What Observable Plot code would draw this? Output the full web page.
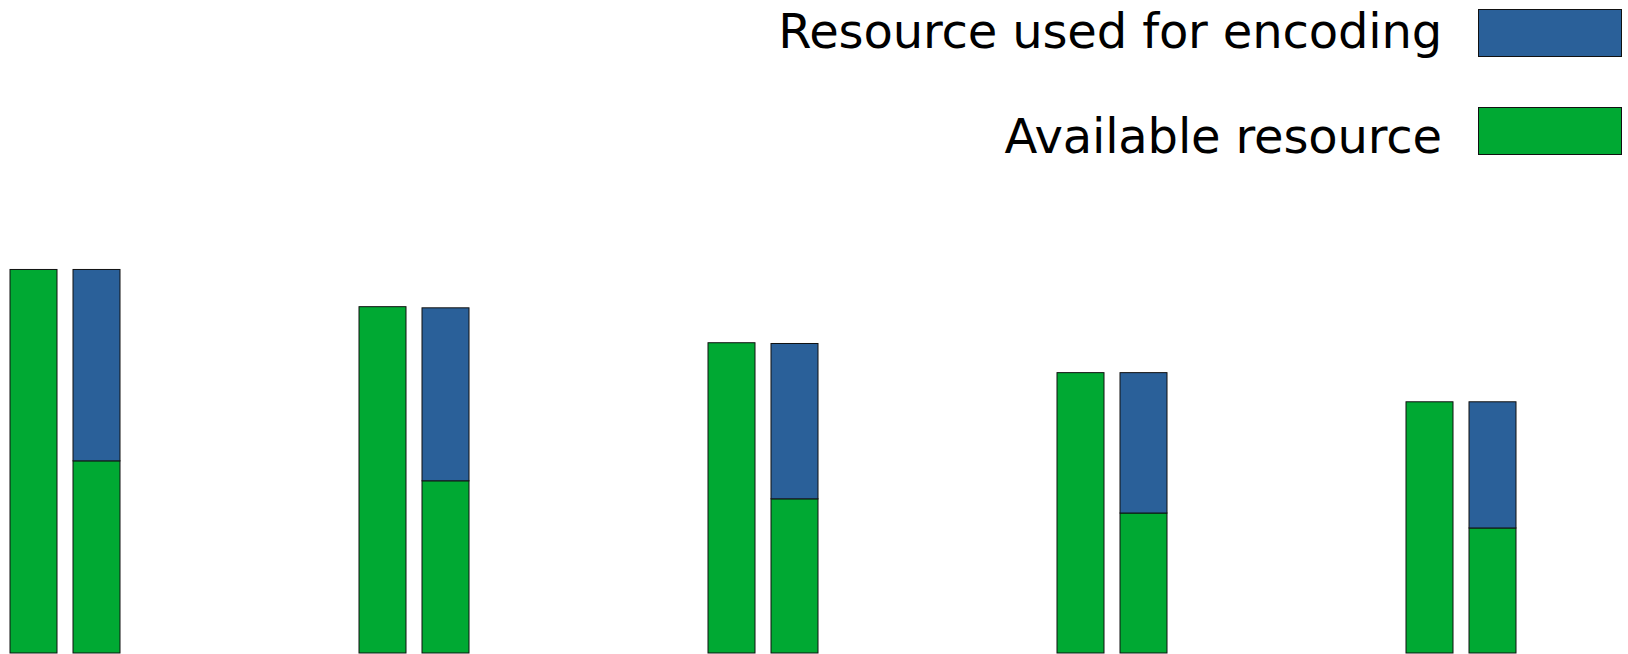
<!DOCTYPE html>
<html>
<head>
<meta charset="utf-8">
<script src="https://cdn.jsdelivr.net/npm/d3@7"></script>
<script src="https://cdn.jsdelivr.net/npm/@observablehq/plot@0.6"></script>
<style>
  html, body { margin: 0; padding: 0; background: #fff; }
  #wrap { position: relative; width: 1628px; height: 654px; overflow: hidden; }
  #legend { position: absolute; left: 0; top: 0; width: 1628px; height: 170px; pointer-events: none; }
  svg { display: block; }
</style>
</head>
<body>
<div id="wrap"></div>
<script>
// ---- data (arbitrary resource units, first group = 100) ----
const groups = ["G1", "G2", "G3", "G4", "G5"];
const sides = ["total", "split"];
const availableTotal = [100, 90.3, 80.9, 73.1, 65.5];   // left bar (all available)
const splitAvailable = [50.1, 44.9, 40.2, 36.5, 32.6];  // right bar, bottom (available)
const splitUsed = [49.9, 45.1, 40.5, 36.6, 32.9];       // right bar, top (used for encoding)
const seriesNames = ["Available resource", "Resource used for encoding"];
const legendOrder = ["Resource used for encoding", "Available resource"];
const colors = ["#00A933", "#2A6099"];

const rows = [];
groups.forEach((g, i) => {
  rows.push({group: g, side: sides[0], part: seriesNames[0], value: availableTotal[i]});
  rows.push({group: g, side: sides[1], part: seriesNames[0], value: splitAvailable[i]});
  rows.push({group: g, side: sides[1], part: seriesNames[1], value: splitUsed[i]});
});

const W = 1628, H = 654;
const chart = Plot.plot({
  width: W,
  height: H,
  marginTop: 1,
  marginBottom: 1,
  marginLeft: 0,
  marginRight: 101.6,
  fx: {domain: groups, axis: null, paddingInner: 0.6837, paddingOuter: 0.02865},
  x: {domain: sides, axis: null, paddingInner: 0.2587, paddingOuter: 0},
  y: {domain: [0, 170], axis: null},
  color: {domain: seriesNames, range: colors},
  marks: [
    Plot.barY(rows, {
      fx: "group",
      x: "side",
      y: "value",
      fill: "part",
      stroke: "#111",
      strokeWidth: 1
    })
  ]
});

const wrap = document.getElementById("wrap");
wrap.appendChild(chart);

// ---- legend (overlaid at top right) ----
const ns = "http://www.w3.org/2000/svg";
const leg = document.createElementNS(ns, "svg");
leg.setAttribute("id", "legend");
leg.setAttribute("width", W);
leg.setAttribute("height", 170);
const colorOf = d3.scaleOrdinal(seriesNames, colors);
const baselines = [48, 153];
const swatchTops = [9, 107];
legendOrder.forEach((name, i) => {
  const t = document.createElementNS(ns, "text");
  t.setAttribute("x", 1442);
  t.setAttribute("y", baselines[i]);
  t.setAttribute("text-anchor", "end");
  t.setAttribute("font-family", "DejaVu Sans");
  t.setAttribute("font-size", 48);
  t.setAttribute("letter-spacing", "-0.15");
  t.setAttribute("fill", "#000");
  t.textContent = name;
  leg.appendChild(t);
  const r = document.createElementNS(ns, "rect");
  r.setAttribute("x", 1478.5);
  r.setAttribute("y", swatchTops[i] + 0.5);
  r.setAttribute("width", 143);
  r.setAttribute("height", 47);
  r.setAttribute("fill", colorOf(name));
  r.setAttribute("stroke", "#111");
  r.setAttribute("stroke-width", 1);
  leg.appendChild(r);
});
wrap.appendChild(leg);
</script>
</body>
</html>
